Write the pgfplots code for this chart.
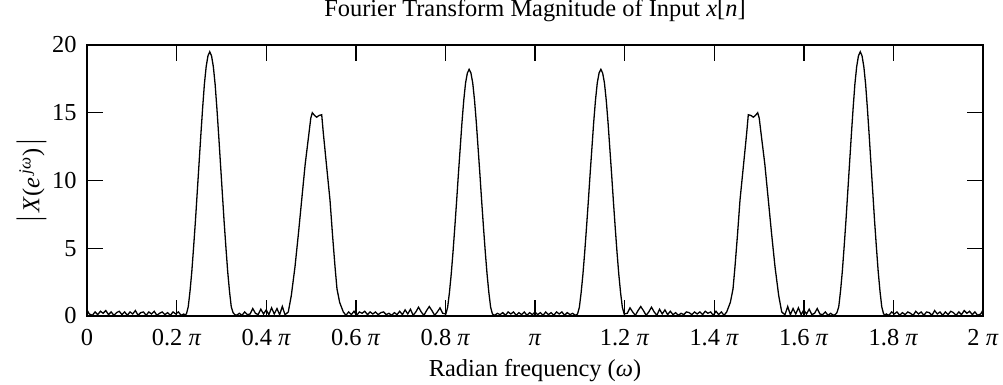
\documentclass[border=0pt]{standalone}
\usepackage{fontspec}
\setmainfont{Liberation Serif}
\usepackage{pgfplots}
\pgfplotsset{compat=1.18}
\begin{document}
\fontsize{12.2bp}{14bp}\selectfont
\begin{tikzpicture}
\begin{axis}[
  name=ax,
  scale only axis,
  width=448bp, height=135.5bp,
  xmin=0, xmax=2, ymin=0, ymax=20,
  xtick={0,0.2,0.4,0.6,0.8,1,1.2,1.4,1.6,1.8,2},
  xticklabels={0, 0.2 \textit{π}, 0.4 \textit{π}, 0.6 \textit{π}, 0.8 \textit{π}, \textit{π}, 1.2 \textit{π}, 1.4 \textit{π}, 1.6 \textit{π}, 1.8 \textit{π}, 2 \textit{π}},
  ytick={0,5,10,15,20},
  /pgf/number format/assume math mode=true,
  tick align=inside,
  major tick length=8bp,
  tick style={black, line width=0.7pt},
  axis line style={black, line width=0.8pt},
  xticklabel style={anchor=base, yshift=-14.5bp},
  yticklabel style={anchor=east, xshift=-1bp},
  title={Fourier Transform Magnitude of Input \textit{x}[\textit{n}]},
  title style={at={(axis description cs:0.5,1.0627)}, anchor=base},
  xlabel={Radian frequency (\textit{ω})},
  xlabel style={at={(axis description cs:0.5,-0.2214)}, anchor=base},
  ylabel={\scalebox{1}[1.35]{|}\,\textit{X}(\textit{e}\textsuperscript{\,\textit{jω}})\,\scalebox{1}[1.35]{|}},
  ylabel style={at={(axis description cs:-0.062,0.5)}, anchor=center, rotate=0},
]
\addplot[black, line width=0.65pt] table {
x y
0.000 0.45
0.005 0.15
0.012 0.05
0.018 0.3
0.024 0.1
0.030 0.35
0.036 0.2
0.042 0.4
0.048 0.1
0.054 0.3
0.060 0.05
0.066 0.25
0.072 0.35
0.078 0.1
0.084 0.3
0.090 0.05
0.096 0.3
0.102 0.15
0.108 0.4
0.114 0.05
0.120 0.25
0.126 0.3
0.132 0.05
0.138 0.3
0.144 0.15
0.150 0.35
0.156 0.05
0.162 0.2
0.168 0.3
0.174 0.1
0.180 0.25
0.186 0.05
0.192 0.3
0.198 0.15
0.204 0.3
0.210 0.05
0.216 0.15
0.218 0.05
0.222 0.16
0.226 0.68
0.230 1.85
0.234 3.3
0.238 5.1
0.242 7.0
0.246 9.1
0.250 11.2
0.254 13.3
0.258 15.3
0.262 17.1
0.266 18.4
0.270 19.2
0.274 19.5
0.278 19.2
0.282 18.4
0.286 17.1
0.290 15.3
0.294 13.3
0.298 11.2
0.302 9.1
0.306 7.0
0.310 5.1
0.314 3.3
0.318 1.85
0.322 0.68
0.326 0.25
0.330 0.1
0.334 0.05
0.340 0.2
0.346 0.05
0.352 0.3
0.358 0.1
0.364 0.15
0.370 0.55
0.376 0.2
0.382 0.1
0.388 0.5
0.394 0.15
0.400 0.45
0.406 0.1
0.412 0.6
0.418 0.15
0.424 0.55
0.430 0.1
0.436 0.7
0.442 0.1
0.446 0.2
0.4493 0.3
0.456 1.5
0.4643 3.64
0.472 6.1
0.4792 8.56
0.487 11.2
0.4955 13.5
0.4995 14.6
0.5029 15.0
0.508 14.8
0.5127 14.67
0.518 14.8
0.5239 14.85
0.5275 13.5
0.535 11.0
0.5424 8.56
0.548 6.0
0.5536 3.64
0.558 2.0
0.564 1.0
0.5721 0.3
0.578 0.05
0.584 0.3
0.590 0.1
0.596 0.35
0.602 0.05
0.608 0.3
0.614 0.2
0.620 0.35
0.626 0.1
0.632 0.3
0.638 0.15
0.644 0.3
0.650 0.1
0.656 0.25
0.662 0.3
0.668 0.1
0.674 0.2
0.680 0.05
0.686 0.25
0.692 0.1
0.698 0.35
0.704 0.1
0.710 0.45
0.716 0.15
0.722 0.5
0.728 0.05
0.734 0.3
0.740 0.65
0.746 0.3
0.752 0.05
0.758 0.4
0.764 0.7
0.770 0.4
0.776 0.05
0.782 0.3
0.788 0.6
0.794 0.2
0.801 0.15
0.805 0.64
0.809 1.73
0.813 3.09
0.817 4.73
0.821 6.55
0.825 8.46
0.829 10.47
0.833 12.38
0.837 14.29
0.841 15.93
0.845 17.2
0.849 17.93
0.853 18.2
0.857 17.93
0.861 17.2
0.865 15.93
0.869 14.29
0.873 12.38
0.877 10.47
0.881 8.46
0.885 6.55
0.889 4.73
0.893 3.09
0.897 1.73
0.901 0.64
0.905 0.15
0.910 0.05
0.916 0.2
0.922 0.1
0.928 0.25
0.934 0.05
0.940 0.3
0.946 0.15
0.952 0.3
0.958 0.05
0.964 0.25
0.970 0.1
0.976 0.3
0.982 0.05
0.988 0.25
0.994 0.1
1.000 0.3
1.006 0.1
1.012 0.25
1.018 0.05
1.024 0.3
1.030 0.1
1.036 0.25
1.042 0.05
1.048 0.3
1.054 0.15
1.060 0.3
1.066 0.05
1.072 0.25
1.078 0.1
1.084 0.2
1.090 0.05
1.095 0.15
1.099 0.64
1.103 1.73
1.107 3.09
1.111 4.73
1.115 6.55
1.119 8.46
1.123 10.47
1.127 12.38
1.131 14.29
1.135 15.93
1.139 17.2
1.143 17.93
1.147 18.2
1.151 17.93
1.155 17.2
1.159 15.93
1.163 14.29
1.167 12.38
1.171 10.47
1.175 8.46
1.179 6.55
1.183 4.73
1.187 3.09
1.191 1.73
1.195 0.64
1.199 0.15
1.206 0.2
1.212 0.6
1.218 0.3
1.224 0.05
1.230 0.4
1.236 0.7
1.242 0.4
1.248 0.05
1.254 0.3
1.260 0.65
1.266 0.3
1.272 0.05
1.278 0.5
1.284 0.15
1.290 0.45
1.296 0.1
1.302 0.35
1.308 0.1
1.314 0.25
1.320 0.05
1.326 0.2
1.332 0.1
1.338 0.3
1.344 0.25
1.350 0.1
1.356 0.3
1.362 0.15
1.368 0.3
1.374 0.1
1.380 0.35
1.386 0.2
1.392 0.3
1.398 0.05
1.404 0.35
1.410 0.1
1.416 0.3
1.422 0.05
1.4279 0.3
1.436 1.0
1.442 2.0
1.4464 3.64
1.452 6.0
1.4576 8.56
1.465 11.0
1.4725 13.5
1.4761 14.85
1.482 14.8
1.4873 14.67
1.492 14.8
1.4971 15.0
1.5005 14.6
1.5045 13.5
1.513 11.2
1.5208 8.56
1.528 6.1
1.5357 3.64
1.544 1.5
1.5507 0.3
1.554 0.2
1.558 0.1
1.564 0.7
1.570 0.1
1.576 0.55
1.582 0.15
1.588 0.6
1.594 0.1
1.600 0.45
1.606 0.15
1.612 0.5
1.618 0.1
1.624 0.2
1.630 0.55
1.636 0.15
1.642 0.1
1.648 0.3
1.654 0.05
1.660 0.2
1.666 0.05
1.670 0.1
1.674 0.25
1.678 0.68
1.682 1.85
1.686 3.3
1.690 5.1
1.694 7.0
1.698 9.1
1.702 11.2
1.706 13.3
1.710 15.3
1.714 17.1
1.718 18.4
1.722 19.2
1.726 19.5
1.730 19.2
1.734 18.4
1.738 17.1
1.742 15.3
1.746 13.3
1.750 11.2
1.754 9.1
1.758 7.0
1.762 5.1
1.766 3.3
1.770 1.85
1.774 0.68
1.778 0.16
1.782 0.05
1.784 0.15
1.790 0.05
1.796 0.3
1.802 0.15
1.808 0.3
1.814 0.05
1.820 0.25
1.826 0.1
1.832 0.3
1.838 0.2
1.844 0.05
1.850 0.35
1.856 0.15
1.862 0.3
1.868 0.05
1.874 0.3
1.880 0.25
1.886 0.05
1.892 0.4
1.898 0.15
1.904 0.3
1.910 0.05
1.916 0.3
1.922 0.1
1.928 0.35
1.934 0.25
1.940 0.05
1.946 0.3
1.952 0.1
1.958 0.4
1.964 0.2
1.970 0.35
1.976 0.1
1.982 0.3
1.988 0.05
1.995 0.15
2.000 0.45
};
\end{axis}
\pgfresetboundingbox
\path[use as bounding box] ([xshift=-43.5bp,yshift=-34.5bp]ax.south west) rectangle ([xshift=10bp,yshift=22.5bp]ax.north east);
\end{tikzpicture}
\end{document}
